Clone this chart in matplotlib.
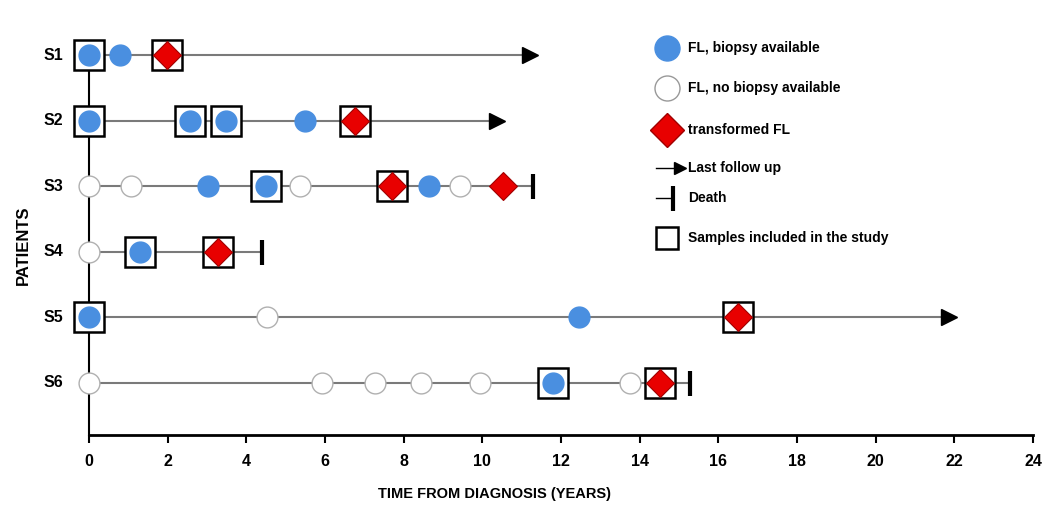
import matplotlib
matplotlib.use("Agg")
import matplotlib.pyplot as plt

# row labels, top to bottom
patients = ["S1", "S2", "S3", "S4", "S5", "S6"]

# event times (years) per patient
fl_biopsy = [[0, 0.79], [0, 2.57, 3.48, 5.49], [3.03, 4.5, 8.64], [1.3], [0, 12.46], [11.8]]
fl_no_biopsy = [[], [], [0, 1.07, 5.36, 9.43], [0], [4.53], [0, 5.92, 7.27, 8.44, 9.94, 13.76]]
transformed = [[1.98], [6.76], [7.7, 10.53], [3.28], [16.5], [14.52]]
samples = [[0, 1.98], [0, 2.57, 3.48, 6.76], [4.5, 7.7], [1.3, 3.28], [0, 16.5], [11.8, 14.52]]
last_follow_up = [11.2, 10.37, None, None, 21.87, None]
death = [None, None, 11.29, 4.4, None, 15.28]

BLUE = "#4a8fe0"
RED = "#e80000"
GREY = "#7a7a7a"

plt.rcParams["font.family"] = ["Liberation Sans", "DejaVu Sans"]
plt.rcParams["font.weight"] = "bold"

fig = plt.figure(figsize=(10.47, 5.05), dpi=100)
ax = fig.add_axes([89 / 1047, 1 - 435 / 505, (1033 - 89) / 1047, 415 / 505])

n = len(patients)
ys = [n - i for i in range(n)]

for i, y in enumerate(ys):
    end = last_follow_up[i] if last_follow_up[i] is not None else death[i]
    ax.plot([0, end], [y, y], color=GREY, lw=1.5, zorder=1)
    if last_follow_up[i] is not None:
        ax.plot([end], [y], marker=">", ms=11, color="black", mec="black", zorder=3)
    if death[i] is not None:
        ax.plot([end], [y], marker="|", ms=18, mew=3, color="black", zorder=3)
    for t in samples[i]:
        ax.plot([t], [y], marker="s", ms=21, mfc="white", mec="black", mew=1.8,
                zorder=2, clip_on=False)
    for t in fl_no_biopsy[i]:
        ax.plot([t], [y], marker="o", ms=15, mfc="white", mec="#b0b0b0", mew=1,
                zorder=4, clip_on=False)
    for t in fl_biopsy[i]:
        ax.plot([t], [y], marker="o", ms=15, mfc=BLUE, mec=BLUE, mew=1,
                zorder=4, clip_on=False)
    for t in transformed[i]:
        ax.plot([t], [y], marker="D", ms=14, mfc=RED, mec="#a00000", mew=0.8,
                zorder=4, clip_on=False)
    ax.text(-0.66, y, patients[i], ha="right", va="center", fontsize=11.5, fontweight="bold")

# vertical line joining the rows
ax.plot([0, 0], [ys[0], 0.207], color="black", lw=1.5, zorder=0, clip_on=False)

ax.set_xlim(0, 24)
ax.set_ylim(0.207, 6.534)
ax.set_xticks(range(0, 25, 2))
ax.set_yticks([])
for s in ["top", "right", "left"]:
    ax.spines[s].set_visible(False)
ax.spines["bottom"].set_linewidth(2)
ax.tick_params(axis="x", direction="out", length=6, width=1.5, labelsize=11.5, pad=8)
for lab in ax.get_xticklabels():
    lab.set_fontweight("bold")
fig.text(495 / 1047, 1 - 494 / 505, "TIME FROM DIAGNOSIS (YEARS)", ha="center",
         va="center", fontsize=10.5, fontweight="bold")
fig.text(23 / 1047, 1 - 245 / 505, "PATIENTS", rotation=90, ha="center", va="center",
         fontsize=12, fontweight="bold")

# legend drawn by hand in figure coordinates
def fx(px):
    return px / 1047

def fy(py):
    return 1 - py / 505

mx = fx(667)
tx = fx(688)
leg = [
    (48, "FL, biopsy available"),
    (88, "FL, no biopsy available"),
    (130, "transformed FL"),
    (168, "Last follow up"),
    (198, "Death"),
    (238, "Samples included in the study"),
]
fig.lines.append(plt.Line2D([mx], [fy(48)], marker="o", ms=18, mfc=BLUE, mec=BLUE,
                            transform=fig.transFigure))
fig.lines.append(plt.Line2D([mx], [fy(88)], marker="o", ms=18, mfc="white", mec="#999999",
                            transform=fig.transFigure))
fig.lines.append(plt.Line2D([mx], [fy(130)], marker="D", ms=17, mfc=RED, mec="#a00000",
                            transform=fig.transFigure))
fig.lines.append(plt.Line2D([fx(656), fx(680)], [fy(168), fy(168)], color="black", lw=1,
                            transform=fig.transFigure))
fig.lines.append(plt.Line2D([fx(680)], [fy(168)], marker=">", ms=9, color="black",
                            transform=fig.transFigure))
fig.lines.append(plt.Line2D([fx(656), fx(673)], [fy(198), fy(198)], color="black", lw=1,
                            transform=fig.transFigure))
fig.lines.append(plt.Line2D([fx(673)], [fy(198)], marker="|", ms=18, mew=3, color="black",
                            transform=fig.transFigure))
fig.lines.append(plt.Line2D([mx], [fy(238)], marker="s", ms=16, mfc="white", mec="black",
                            mew=1.8, transform=fig.transFigure))
for py, label in leg:
    fig.text(tx, fy(py), label, ha="left", va="center", fontsize=10, fontweight="bold")

fig.savefig("out.png", dpi=100)
